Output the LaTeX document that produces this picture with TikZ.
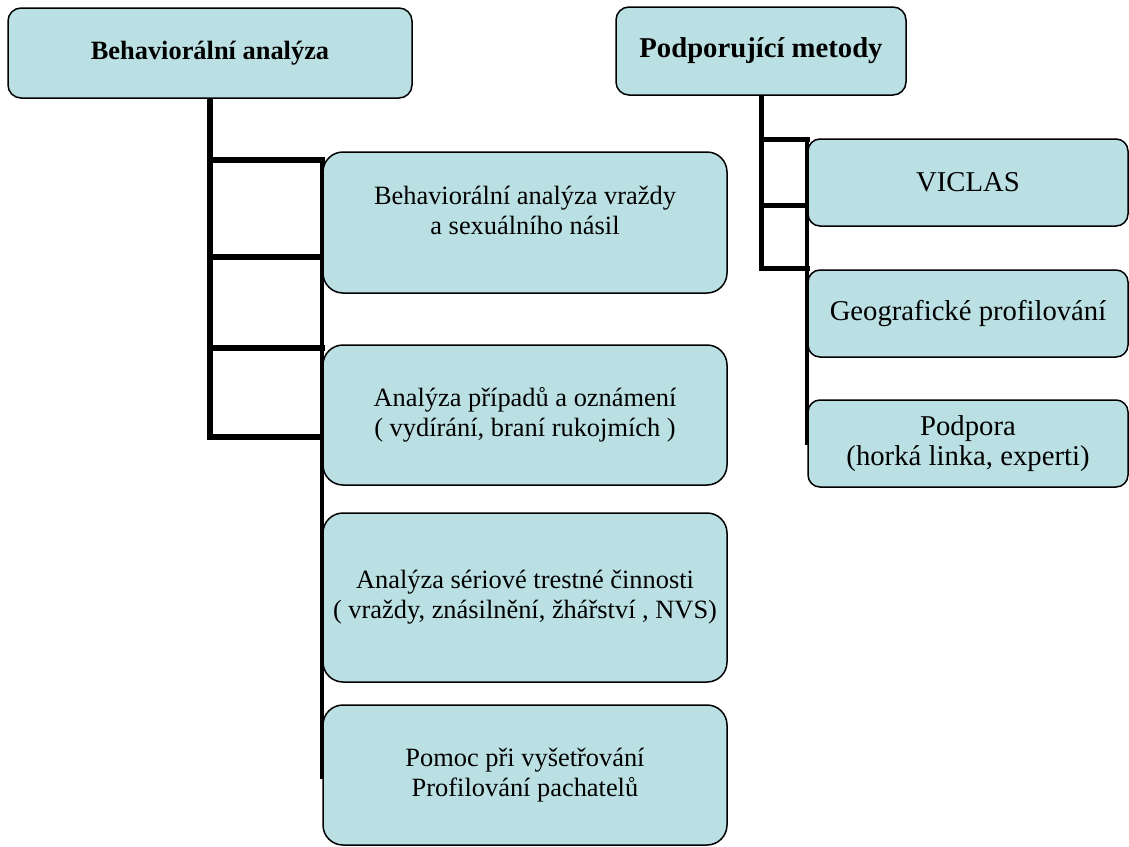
\documentclass[tikz,border=0pt]{standalone}
\usepackage{fontspec}
\setmainfont{Liberation Serif}
\usetikzlibrary{backgrounds}
\definecolor{boxfill}{RGB}{187,224,227}
\tikzset{
  box/.style={draw, line width=1.5pt, fill=boxfill, rounded corners=#1, align=center, inner sep=0pt},
  box/.default=13pt,
  lsize/.style={font=\fontsize{26.4}{30}\selectfont},
  rsize/.style={font=\fontsize{28.7}{30}\selectfont},
  child/.style={box=20pt, lsize, minimum width=404pt},
  rchild/.style={box=12pt, rsize, minimum width=320pt, minimum height=87pt},
  trunk/.style={line width=6pt, line cap=rect},
  branch/.style={line width=4pt, line cap=rect},
}
\begin{document}
\begin{tikzpicture}[x=1pt,y=-1pt]
        \useasboundingbox (0,0) rectangle (1129,846);
        %% heads
        \node[box, lsize, minimum width=404pt, minimum height=90pt] (ba) at (210,53) {\bfseries Behaviorální analýza};
        \node[box, rsize, minimum width=290pt, minimum height=88pt] (pm) at (761,51) {\bfseries Podporující metody};
        %% left column
        \node[child, minimum height=141pt] (c1) at (525,222.5) {Behaviorální analýza vraždy\\ a sexuálního násil\\[-6pt]\mbox{}};
        \node[child, minimum height=140pt] (c2) at (525,415) {Analýza případů a oznámení\\( vydírání, braní rukojmích )};
        \node[child, minimum height=169pt] (c3) at (525,597.5) {Analýza sériové trestné činnosti\\( vraždy, znásilnění, žhářství , NVS)};
        \node[child, minimum height=140pt] (c4) at (525,775) {Pomoc při vyšetřování\\ Profilování pachatelů};
        %% right column
        \node[rchild] (viclas) at (968,182.5) {VICLAS};
        \node[rchild] (geo) at (968,313.5) {Geografické profilování};
        \node[rchild] (podpora) at (968,443.5) {Podpora\\(horká linka, experti)};
        \begin{scope}[on background layer]
            %% left tree
            \draw[trunk] (ba.south) -- (ba.south |- 0,437);
            \foreach \y in {160,257,348,437}
                \draw[trunk] (ba.south |- 0,\y) -- (c1.west |- 0,\y);
            \draw[branch] (c1.west |- 0,160) -- (c4.west |- 0,777);
            %% right tree
            \draw[trunk, line width=5pt] (pm.south) -- (pm.south |- 0,268);
            \foreach \y in {139,205,268}
                \draw[trunk, line width=5pt] (pm.south |- 0,\y) -- (viclas.west |- 0,\y);
            \draw[branch] (viclas.west |- 0,139) -- (podpora.west |- 0,443);
        \end{scope}
    \end{tikzpicture}
\end{document}
